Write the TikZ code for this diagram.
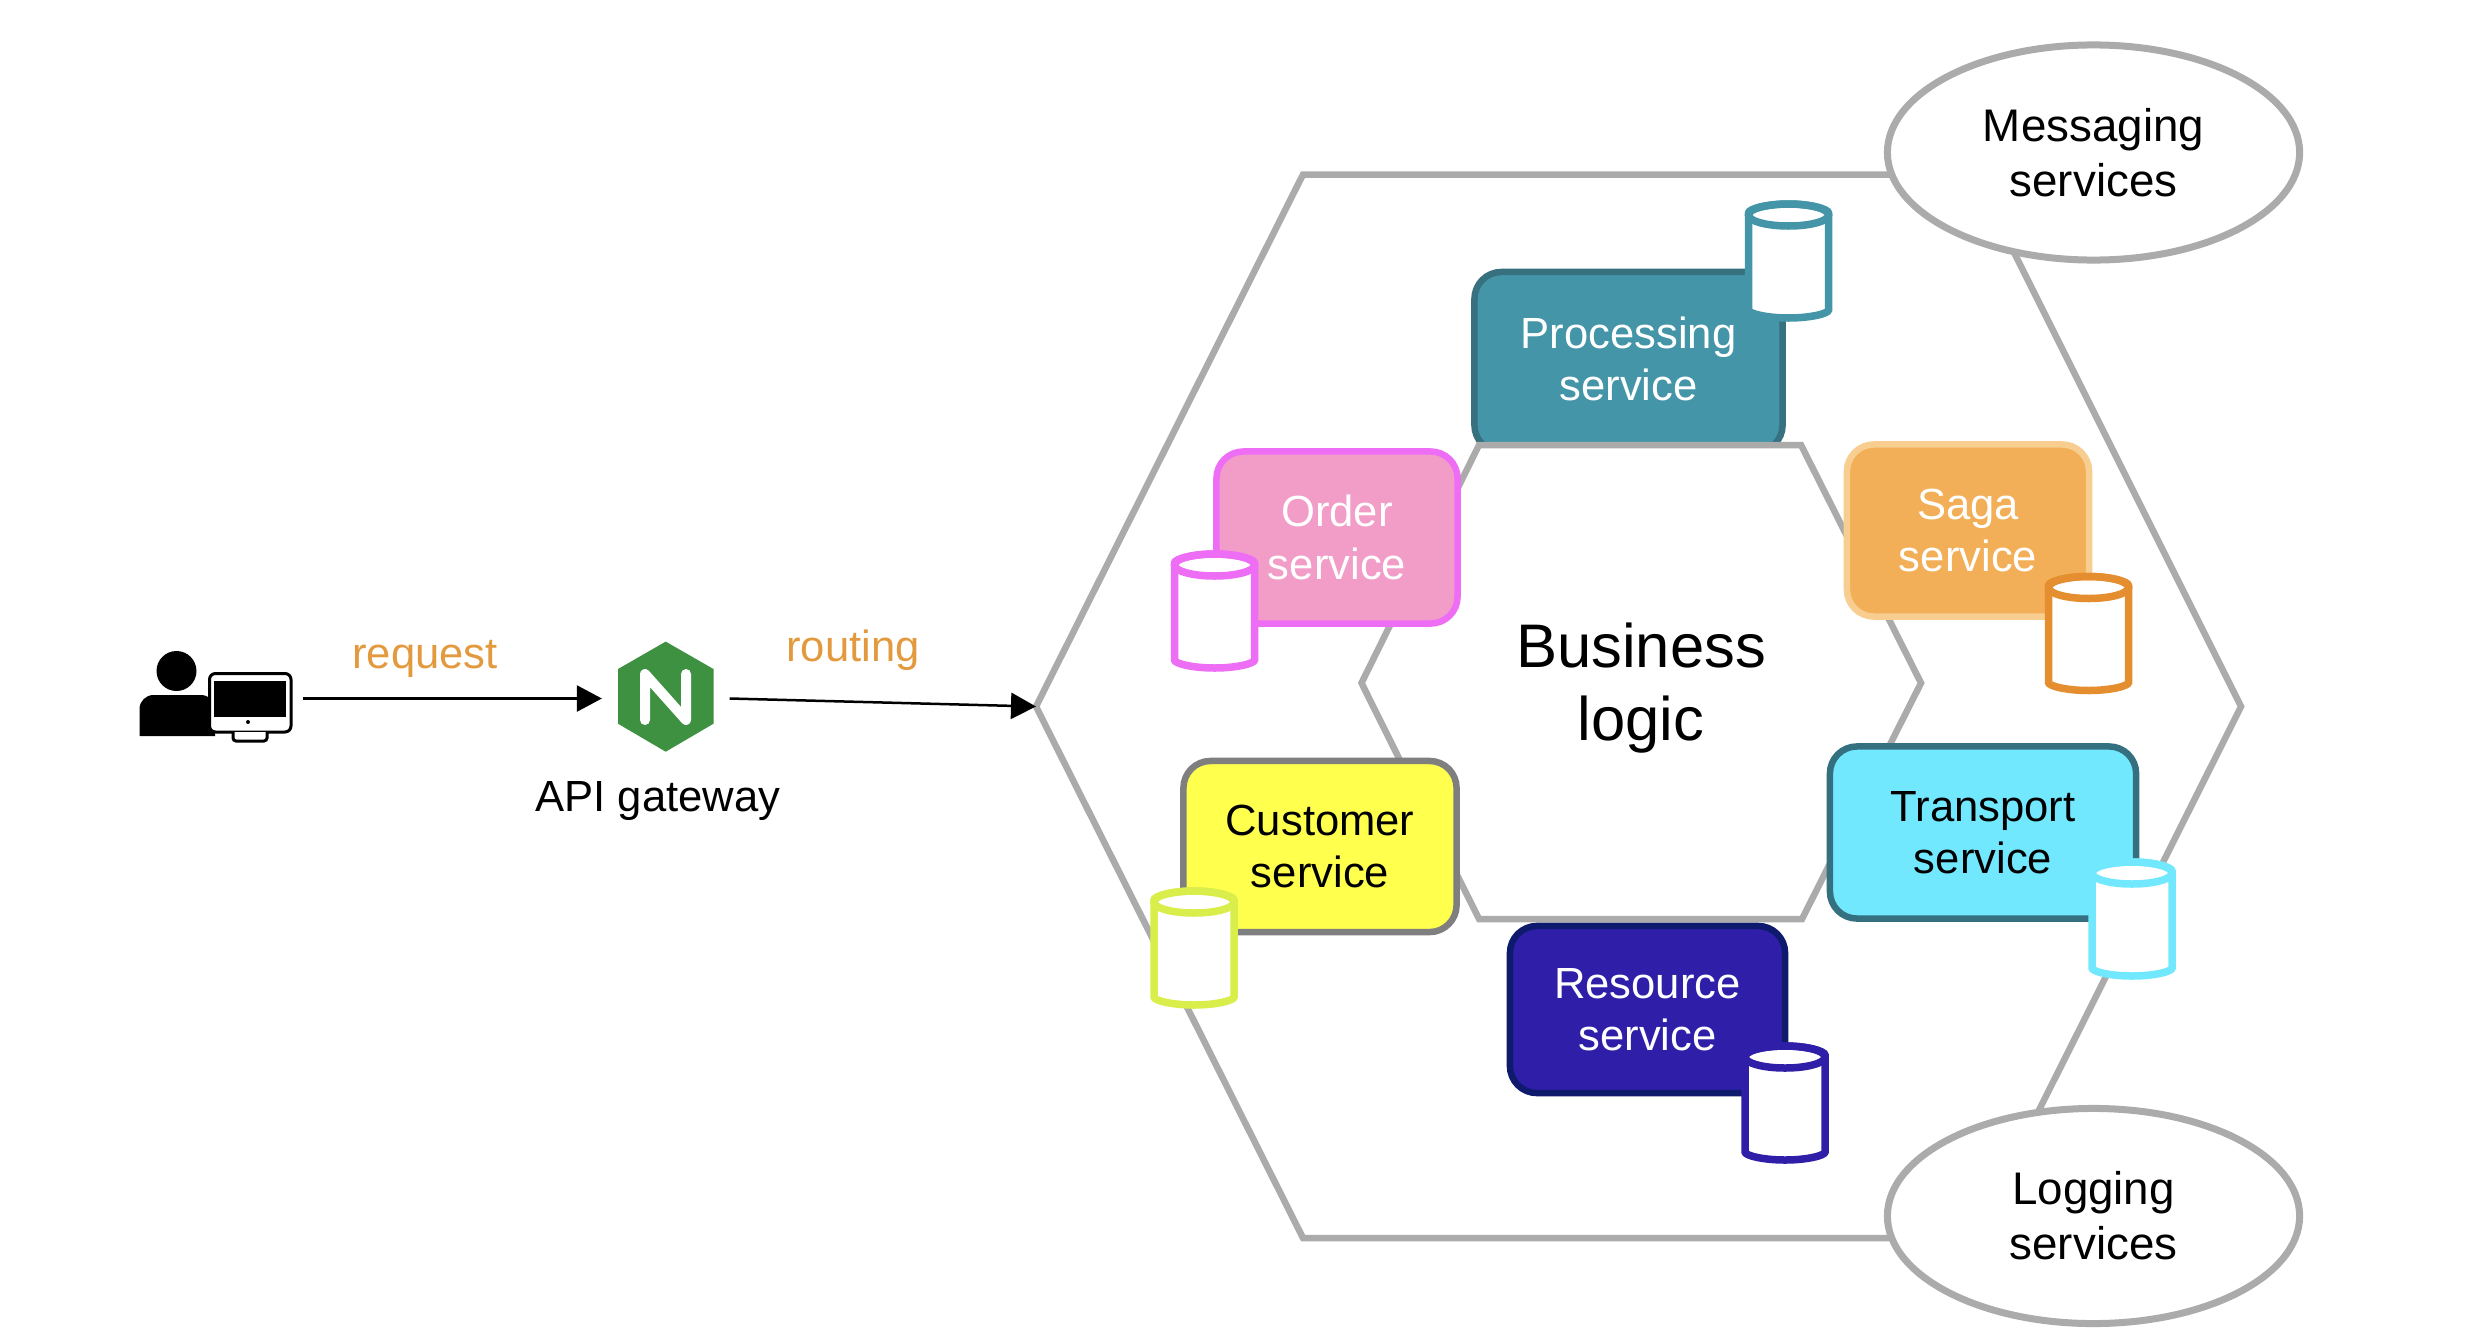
\documentclass[tikz,border=0pt]{standalone}
\usepackage{fontspec}
\setmainfont{Liberation Sans}
\usetikzlibrary{shapes.geometric,arrows.meta}
\definecolor{hexgrey}{HTML}{ABABAB}
\definecolor{reqorange}{HTML}{E39A3F}
\definecolor{nginxgreen}{HTML}{3F9142}
\definecolor{procfill}{HTML}{4495A8}
\definecolor{procline}{HTML}{37707E}
\definecolor{orderfill}{HTML}{F29DC8}
\definecolor{orderline}{HTML}{EE6DF5}
\definecolor{sagafill}{HTML}{F3AF57}
\definecolor{sagaline}{HTML}{F7CD90}
\definecolor{sagadb}{HTML}{E58E2F}
\definecolor{custfill}{HTML}{FFFF4D}
\definecolor{custline}{HTML}{7F7F7F}
\definecolor{custdb}{HTML}{D9EE4A}
\definecolor{transfill}{HTML}{72E8FF}
\definecolor{transline}{HTML}{34707F}
\definecolor{resfill}{HTML}{2F1FA8}
\definecolor{resline}{HTML}{0E1A6B}
\tikzset{
  hexline/.style={draw=hexgrey,line width=0.065cm,line join=miter},
  svcbox/.style 2 args={draw=#1,fill=#2,line width=0.065cm,rounded corners=0.27cm,
    inner sep=0,outer sep=0,align=center,font=\fontsize{12.4}{14.9}\selectfont},
  svcell/.style={ellipse,draw=hexgrey,fill=white,line width=0.07cm,minimum width=4.12cm,minimum height=2.15cm,
    inner sep=0,outer sep=0,align=center,font=\fontsize{13}{15.6}\selectfont},
  lbl/.style={inner sep=0,font=\fontsize{12.4}{14.9}\selectfont},
  flowline/.style={line width=0.025cm,-{Triangle[length=0.25cm,width=0.26cm]}},
  pics/dbcyl/.style={code={
    \draw [draw=#1,fill=white,line width=0.075cm,rounded corners=0.02cm] (-40,-47) -- (-40,46) arc [x radius=40,y radius=10,start angle=180,end angle=0] -- (40,-47) arc [x radius=40,y radius=11,start angle=0,end angle=-180] -- cycle;
    \draw [draw=#1,line width=0.075cm] (0,-47) ellipse [x radius=40,y radius=11];
  }}
}
\begin{document}
\begin{tikzpicture}[x=0.01cm,y=-0.01cm]
\useasboundingbox (0,0) rectangle (2482,1330);
\coordinate (hexleft) at (1036,706.5);
\draw [hexline] (hexleft) -- (1303,174.5) -- (1975,174.5) -- (2241,706.5) -- (1975,1238) -- (1303,1238) -- cycle;
\node [svcell] (msgsvc) at (2093.5,152.5) {\raisebox{-0.03cm}{Messaging}\\\raisebox{-0.03cm}{services}};
\node [svcell] (logsvc) at (2093.5,1216) {\raisebox{-0.04cm}{Logging}\\\raisebox{-0.04cm}{services}};
\node [svcbox={procline}{procfill},text=white,minimum width=3.08cm,minimum height=1.8cm] (procbox) at (1628.5,362) {\raisebox{0.07cm}{Processing}\\\raisebox{0.07cm}{service}};
\draw [hexline,fill=white] (1479,445) -- (1801,445) -- (1921,683) -- (1802,919) -- (1479,919) -- (1361.5,683) -- cycle;
\node [lbl,align=center,font=\fontsize{17.5}{20.8}\selectfont] (bizlogic) at (1641,688) {Business\\logic};
\node [svcbox={orderline}{orderfill},text=white,minimum width=2.41cm,minimum height=1.72cm] (orderbox) at (1337,537.5) {Order\\service};
\node [svcbox={sagaline}{sagafill},text=white,minimum width=2.42cm,minimum height=1.72cm] (sagabox) at (1968,530.5) {Saga\\service};
\node [svcbox={custline}{custfill},minimum width=2.73cm,minimum height=1.71cm] (custbox) at (1320,846.5) {Customer\\service};
\node [svcbox={transline}{transfill},minimum width=3.06cm,minimum height=1.72cm] (transbox) at (1983,832.5) {Transport\\service};
\node [svcbox={resline}{resfill},text=white,minimum width=2.75cm,minimum height=1.67cm] (resbox) at (1647.5,1009.5) {Resource\\service};
\pic at (1788.5,262) {dbcyl=procfill};
\pic at (1214.5,612) {dbcyl=orderline};
\pic at (2088.5,634.5) {dbcyl=sagadb};
\pic at (1194,949) {dbcyl=custdb};
\pic at (2132,920) {dbcyl=transfill};
\pic at (1785,1104) {dbcyl=resfill};
\node [minimum width=1.64cm,minimum height=0.8cm,inner sep=0,outer sep=0] (user) at (221,698.5) {};
\fill (176.5,671) circle [radius=20];
\fill (139.5,736) -- (139.5,708) [rounded corners=0.14cm] -- (139.5,695) -- (215,695) [sharp corners] -- (215,736) -- cycle;
\draw [line width=0.03cm,fill=white,rounded corners=0.06cm] (209.5,673.5) rectangle (291,732);
\fill (213.5,681) rectangle (286,717);
\draw [line width=0.03cm,fill=white,rounded corners=0.03cm] (233,732) -- (233,741) -- (267,741) -- (267,732);
\fill (248,722) circle [radius=2];
\node [minimum width=1.276cm,minimum height=1.1cm,inner sep=0,outer sep=0] (gateway) at (665.7,698.5) {};
\fill [nginxgreen] (665.7,641.6) -- (713.5,669) -- (713.5,723.7) -- (665.7,751.7) -- (618,723.7) -- (618,669) -- cycle;
\draw [white,line width=0.1cm,line cap=round,line join=round] (645,720) -- (645,674) -- (686,720) -- (686,674);
\draw [flowline] (user.east) -- (gateway.west);
\draw [flowline] (gateway.east) -- (hexleft);
\node [lbl,text=reqorange] (reqlabel) at (425,659) {request};
\node [lbl,text=reqorange] (routelabel) at (853,650.5) {routing};
\node [lbl] (gwlabel) at (658,801) {API gateway};
\end{tikzpicture}
\end{document}
